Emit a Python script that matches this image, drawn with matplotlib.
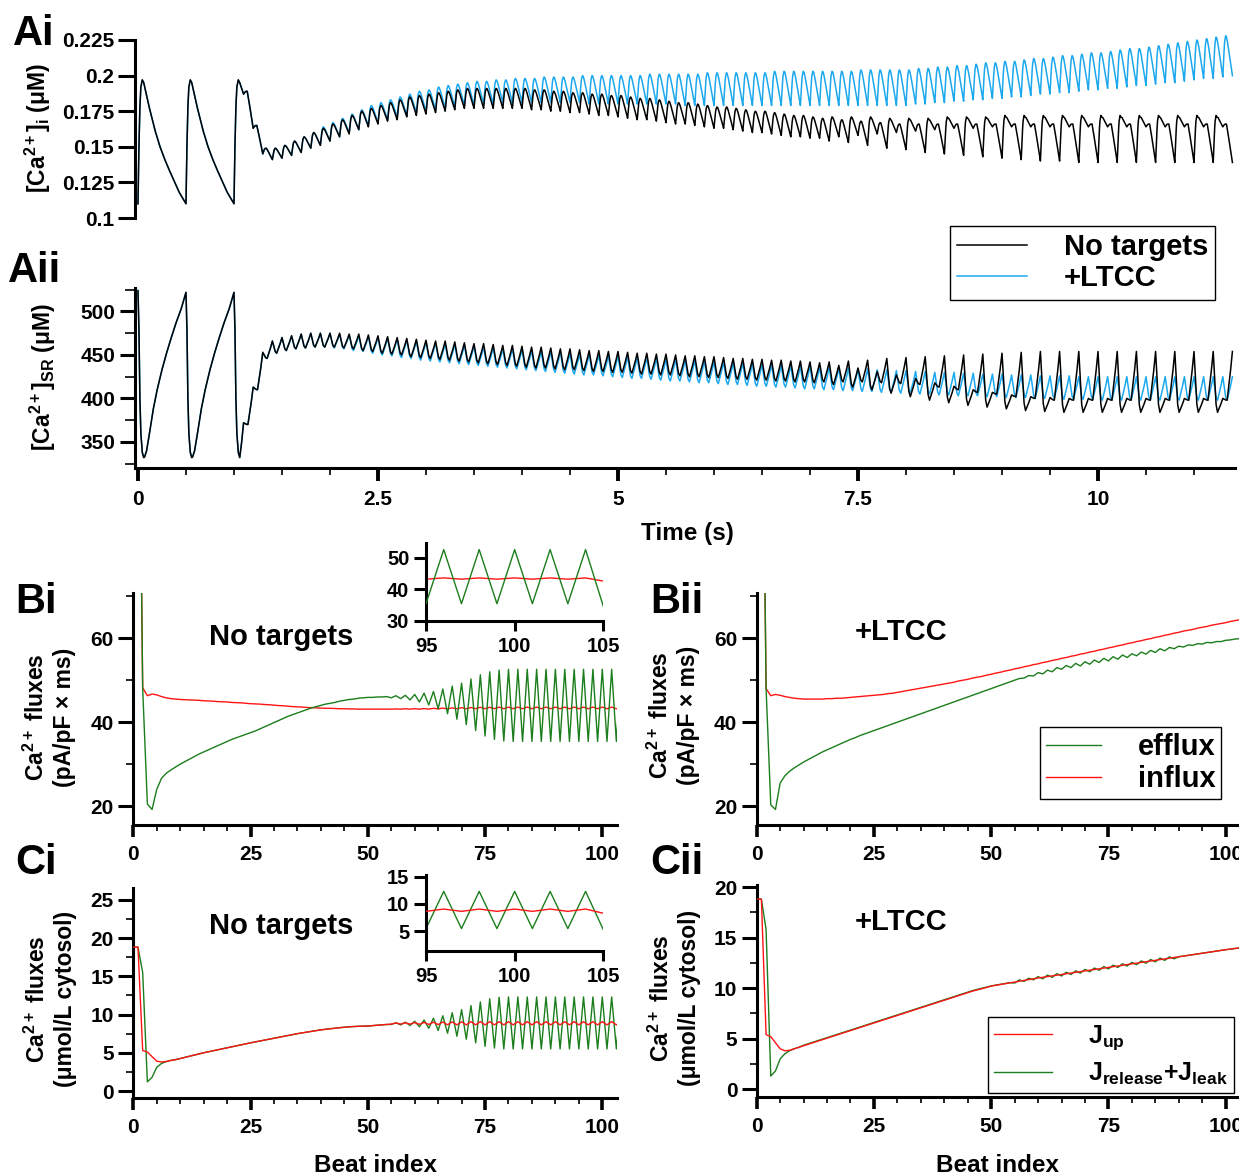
import matplotlib
matplotlib.use('Agg')
import matplotlib.pyplot as plt
from matplotlib.ticker import FixedLocator, MultipleLocator

plt.rcParams['font.family'] = ['Liberation Sans', 'DejaVu Sans']
plt.rcParams['font.weight'] = 'bold'
plt.rcParams['mathtext.fontset'] = 'custom'
plt.rcParams['mathtext.rm'] = 'Liberation Sans:bold'
plt.rcParams['mathtext.it'] = 'Liberation Sans:bold'
plt.rcParams['mathtext.bf'] = 'Liberation Sans:bold'
plt.rcParams['mathtext.sf'] = 'Liberation Sans:bold'

# ---------------- data ----------------
# A panels: the first 3 beats are paced at 2 Hz (same in both cells); one beat read point by point
beat_t = [0, 0.01, 0.02, 0.03, 0.045, 0.06, 0.08, 0.1, 0.12, 0.15, 0.18, 0.23,
          0.28, 0.33, 0.37, 0.43, 0.5]
beat_cai = [0.110, 0.150, 0.178, 0.192, 0.197, 0.195, 0.189, 0.183, 0.177, 0.169,
            0.161, 0.150, 0.141, 0.133, 0.127, 0.118, 0.110]
beat_sr_t = [0, 0.01, 0.02, 0.03, 0.045, 0.06, 0.07, 0.09, 0.12, 0.16, 0.2, 0.25,
             0.3, 0.35, 0.4, 0.45, 0.5]
beat_sr = [524, 480, 400, 360, 338, 332, 333, 340, 360, 388, 410, 433,
           453, 471, 488, 503, 522]
# third slow beat is cut short when 10 Hz pacing starts
tail_t = [1.08, 1.1]
tail_cai = [0.191, 0.187]
tail_sr = [350, 372]

# fast pacing (10 Hz), beats 3..105 : diastolic value at beat onset (beats 3..106) and peak
cai_nt_dia = [0.187, 0.163, 0.145, 0.141, 0.142, 0.144, 0.146, 0.149, 0.151, 0.154,
              0.157, 0.159, 0.162, 0.164, 0.166, 0.168, 0.169, 0.171, 0.172, 0.173,
              0.174, 0.175, 0.176, 0.177, 0.177, 0.177, 0.177, 0.177, 0.177, 0.177,
              0.176, 0.176, 0.175, 0.175, 0.174, 0.174, 0.173, 0.172, 0.172, 0.171,
              0.170, 0.169, 0.169, 0.168, 0.167, 0.166, 0.166, 0.165, 0.164, 0.163,
              0.163, 0.162, 0.161, 0.160, 0.160, 0.159, 0.158, 0.157, 0.157, 0.156,
              0.156, 0.154, 0.157, 0.153, 0.158, 0.151, 0.159, 0.149, 0.160, 0.148,
              0.161, 0.146, 0.162, 0.145, 0.163, 0.144, 0.163, 0.143, 0.164, 0.142,
              0.164, 0.141, 0.164, 0.140, 0.164, 0.140, 0.164, 0.139, 0.164, 0.139,
              0.164, 0.139, 0.164, 0.139, 0.164, 0.139, 0.164, 0.139, 0.164, 0.139,
              0.164, 0.139, 0.164, 0.139]
cai_nt_sys = [0.189, 0.165, 0.149, 0.149, 0.151, 0.154, 0.157, 0.160, 0.163, 0.166,
              0.169, 0.172, 0.175, 0.177, 0.179, 0.181, 0.183, 0.185, 0.186, 0.187,
              0.188, 0.189, 0.190, 0.191, 0.191, 0.191, 0.191, 0.191, 0.191, 0.191,
              0.190, 0.190, 0.189, 0.189, 0.188, 0.188, 0.187, 0.187, 0.186, 0.186,
              0.185, 0.184, 0.184, 0.183, 0.182, 0.181, 0.181, 0.180, 0.179, 0.178,
              0.178, 0.177, 0.176, 0.175, 0.175, 0.174, 0.173, 0.172, 0.172, 0.171,
              0.170, 0.171, 0.169, 0.171, 0.168, 0.171, 0.167, 0.170, 0.166, 0.170,
              0.166, 0.170, 0.166, 0.171, 0.166, 0.171, 0.166, 0.171, 0.166, 0.172,
              0.166, 0.172, 0.166, 0.172, 0.166, 0.172, 0.166, 0.172, 0.166, 0.172,
              0.166, 0.172, 0.166, 0.172, 0.166, 0.172, 0.166, 0.172, 0.166, 0.172,
              0.166, 0.172, 0.166]
cai_lt_dia = [0.187, 0.163, 0.145, 0.141, 0.142, 0.144, 0.146, 0.149, 0.151, 0.154,
              0.157, 0.160, 0.162, 0.165, 0.167, 0.169, 0.171, 0.172, 0.174, 0.175,
              0.176, 0.177, 0.178, 0.179, 0.179, 0.180, 0.180, 0.181, 0.181, 0.181,
              0.181, 0.181, 0.181, 0.181, 0.181, 0.181, 0.180, 0.180, 0.180, 0.180,
              0.180, 0.180, 0.180, 0.180, 0.180, 0.180, 0.179, 0.179, 0.179, 0.179,
              0.179, 0.179, 0.179, 0.179, 0.179, 0.179, 0.179, 0.179, 0.179, 0.179,
              0.179, 0.179, 0.179, 0.179, 0.179, 0.179, 0.179, 0.179, 0.179, 0.179,
              0.180, 0.180, 0.181, 0.181, 0.182, 0.182, 0.183, 0.183, 0.184, 0.184,
              0.185, 0.185, 0.186, 0.187, 0.187, 0.188, 0.188, 0.189, 0.190, 0.190,
              0.191, 0.191, 0.192, 0.193, 0.193, 0.194, 0.195, 0.195, 0.196, 0.197,
              0.198, 0.198, 0.199, 0.200]
cai_lt_sys = [0.189, 0.165, 0.149, 0.149, 0.151, 0.154, 0.157, 0.160, 0.164, 0.167,
              0.170, 0.173, 0.176, 0.179, 0.181, 0.183, 0.185, 0.187, 0.189, 0.190,
              0.192, 0.193, 0.194, 0.195, 0.196, 0.196, 0.197, 0.197, 0.198, 0.198,
              0.198, 0.199, 0.199, 0.199, 0.199, 0.200, 0.200, 0.200, 0.200, 0.200,
              0.200, 0.200, 0.201, 0.201, 0.201, 0.201, 0.201, 0.201, 0.202, 0.202,
              0.202, 0.202, 0.202, 0.202, 0.202, 0.203, 0.203, 0.203, 0.203, 0.203,
              0.203, 0.203, 0.203, 0.203, 0.204, 0.204, 0.204, 0.204, 0.204, 0.204,
              0.205, 0.205, 0.206, 0.206, 0.207, 0.207, 0.208, 0.209, 0.209, 0.210,
              0.210, 0.211, 0.212, 0.212, 0.213, 0.214, 0.214, 0.215, 0.216, 0.216,
              0.217, 0.218, 0.219, 0.219, 0.220, 0.221, 0.222, 0.223, 0.224, 0.225,
              0.226, 0.227, 0.228]
# SR load: value at beat onset (beats 3..106) and minimum after release (beats 3..105)
sr_nt_top = [372, 413, 453, 466, 470, 472, 474, 475, 475, 475,
             475, 474, 474, 473, 472, 471, 470, 469, 468, 467,
             466, 466, 465, 464, 463, 463, 462, 461, 461, 460,
             459, 459, 458, 457, 457, 456, 455, 455, 454, 454,
             453, 452, 452, 451, 451, 450, 449, 449, 448, 448,
             447, 446, 446, 445, 445, 444, 444, 443, 443, 442,
             441, 442, 438, 443, 435, 444, 431, 446, 427, 447,
             423, 448, 418, 449, 414, 450, 410, 451, 407, 452,
             404, 453, 402, 454, 401, 454, 400, 454, 400, 454,
             400, 454, 400, 454, 400, 454, 400, 454, 400, 454,
             400, 454, 400, 454]
sr_nt_bot = [370, 410, 446, 452, 455, 457, 458, 459, 459, 459,
             458, 457, 455, 454, 452, 451, 450, 448, 447, 446,
             445, 444, 443, 442, 441, 440, 439, 438, 437, 436,
             435, 435, 434, 433, 433, 432, 431, 431, 430, 430,
             429, 428, 428, 427, 427, 426, 425, 425, 424, 424,
             423, 422, 422, 421, 421, 420, 420, 419, 419, 418,
             419, 416, 419, 413, 419, 410, 418, 406, 417, 402,
             416, 398, 413, 395, 410, 392, 407, 390, 405, 388,
             402, 386, 400, 385, 398, 384, 398, 384, 398, 384,
             398, 384, 398, 384, 398, 384, 398, 384, 398, 384,
             398, 384, 398]
sr_lt_top = [372, 413, 453, 466, 470, 472, 474, 475, 475, 475,
             474, 473, 472, 471, 470, 469, 468, 467, 466, 465,
             464, 463, 462, 461, 460, 459, 458, 457, 457, 456,
             455, 454, 454, 453, 452, 451, 451, 450, 449, 449,
             448, 447, 447, 446, 445, 445, 444, 444, 443, 442,
             442, 441, 441, 440, 439, 439, 438, 438, 437, 437,
             436, 436, 435, 435, 434, 434, 433, 433, 432, 432,
             431, 431, 430, 430, 430, 429, 429, 428, 428, 428,
             427, 427, 427, 426, 426, 426, 426, 425, 425, 425,
             425, 425, 425, 425, 425, 425, 425, 425, 425, 425,
             425, 425, 425, 425]
sr_lt_bot = [370, 410, 446, 452, 455, 457, 458, 459, 459, 458,
             457, 455, 454, 452, 450, 449, 447, 446, 444, 443,
             442, 441, 440, 439, 438, 437, 436, 435, 434, 433,
             432, 431, 430, 429, 428, 427, 427, 426, 425, 424,
             423, 423, 422, 421, 420, 420, 419, 418, 418, 417,
             416, 416, 415, 414, 414, 413, 413, 412, 411, 411,
             410, 410, 409, 409, 408, 408, 407, 407, 406, 406,
             405, 405, 404, 404, 403, 403, 403, 402, 402, 401,
             401, 401, 400, 400, 400, 399, 399, 399, 399, 398,
             398, 398, 398, 398, 398, 398, 398, 398, 398, 398,
             398, 398, 398]

# B/C panels: per-beat values, beat index 0..105
bi_efflux = [150, 150, 48.0, 20.5, 19.2, 24.0, 26.6, 27.8, 28.6, 29.3,
             30.0, 30.6, 31.2, 31.8, 32.4, 32.9, 33.4, 33.9, 34.4, 34.9,
             35.4, 35.9, 36.3, 36.7, 37.1, 37.5, 37.9, 38.4, 38.9, 39.4,
             39.9, 40.4, 40.9, 41.4, 41.8, 42.2, 42.6, 43.0, 43.4, 43.7,
             44.0, 44.3, 44.5, 44.7, 45.0, 45.2, 45.4, 45.5, 45.7, 45.8,
             45.9, 45.9, 46.0, 46.0, 46.1, 45.8, 46.3, 45.6, 46.4, 45.3,
             46.6, 44.8, 46.9, 44.1, 47.3, 43.2, 47.9, 42.0, 48.6, 40.7,
             49.3, 39.4, 50.3, 38.0, 51.3, 36.7, 52.0, 35.9, 52.4, 35.5,
             52.6, 35.4, 52.6, 35.4, 52.6, 35.4, 52.6, 35.4, 52.6, 35.4,
             52.6, 35.4, 52.6, 35.4, 52.6, 35.4, 52.6, 35.4, 52.6, 35.4,
             52.6, 35.4, 52.6, 35.4, 52.6, 34.6]
bi_influx = [150, 150, 48.2, 46.3, 46.7, 46.5, 46.1, 45.8, 45.6, 45.5,
             45.4, 45.35, 45.3, 45.25, 45.2, 45.1, 45.05, 45.0, 44.9, 44.85,
             44.8, 44.7, 44.65, 44.6, 44.5, 44.4, 44.35, 44.3, 44.2, 44.15,
             44.05, 43.95, 43.9, 43.8, 43.7, 43.65, 43.6, 43.5, 43.45, 43.4,
             43.35, 43.3, 43.3, 43.25, 43.2, 43.2, 43.15, 43.15, 43.1, 43.1,
             43.1, 43.1, 43.1, 43.1, 43.1, 43.1, 43.15, 43.1, 43.2, 43.1,
             43.2, 43.1, 43.25, 43.1, 43.3, 43.15, 43.35, 43.15, 43.4, 43.2,
             43.45, 43.2, 43.5, 43.2, 43.55, 43.2, 43.55, 43.2, 43.6, 43.2,
             43.6, 43.2, 43.6, 43.2, 43.6, 43.2, 43.6, 43.2, 43.6, 43.2,
             43.6, 43.2, 43.6, 43.2, 43.6, 43.2, 43.6, 43.2, 43.6, 43.2,
             43.6, 43.2, 43.6, 43.2, 43.6, 42.6]
bii_efflux = [150, 150, 48.0, 20.3, 19.2, 25.5, 27.2, 28.3, 29.1, 29.8,
              30.5, 31.1, 31.7, 32.3, 32.9, 33.4, 33.9, 34.4, 34.9, 35.4,
              35.9, 36.3, 36.8, 37.2, 37.6, 38.0, 38.4, 38.8, 39.2, 39.6,
              40.0, 40.4, 40.8, 41.2, 41.6, 42.0, 42.4, 42.8, 43.2, 43.6,
              44.0, 44.4, 44.8, 45.2, 45.6, 46.0, 46.4, 46.8, 47.2, 47.6,
              48.0, 48.4, 48.8, 49.2, 49.6, 50.0, 50.4, 50.5, 51.1, 51.0,
              51.8, 51.5, 52.4, 52.0, 53.0, 52.6, 53.5, 53.0, 54.0, 53.4,
              54.4, 53.8, 54.8, 54.2, 55.2, 54.6, 55.6, 55.0, 56.0, 55.4,
              56.3, 55.8, 56.7, 56.2, 57.1, 56.6, 57.5, 57.0, 57.8, 57.5,
              58.1, 57.9, 58.4, 58.3, 58.7, 58.6, 59.0, 58.9, 59.2, 59.2,
              59.5, 59.6, 59.8, 59.9, 60.0, 60.1]
bii_influx = [150, 150, 48.0, 46.3, 46.6, 46.4, 46.1, 45.9, 45.7, 45.6,
              45.5, 45.5, 45.5, 45.5, 45.5, 45.6, 45.6, 45.7, 45.7, 45.8,
              45.9, 46.0, 46.1, 46.2, 46.3, 46.4, 46.5, 46.6, 46.8, 46.9,
              47.1, 47.3, 47.5, 47.7, 47.9, 48.1, 48.3, 48.5, 48.7, 48.9,
              49.1, 49.3, 49.5, 49.8, 50.0, 50.2, 50.5, 50.7, 50.9, 51.2,
              51.4, 51.7, 51.9, 52.2, 52.4, 52.7, 52.9, 53.2, 53.4, 53.7,
              53.9, 54.2, 54.4, 54.7, 54.9, 55.2, 55.4, 55.7, 55.9, 56.2,
              56.4, 56.7, 56.9, 57.2, 57.4, 57.7, 57.9, 58.2, 58.4, 58.7,
              58.9, 59.2, 59.4, 59.7, 59.9, 60.2, 60.4, 60.7, 60.9, 61.2,
              61.4, 61.7, 61.9, 62.1, 62.4, 62.6, 62.8, 63.1, 63.3, 63.5,
              63.7, 64.0, 64.2, 64.4, 64.6, 64.8]
ci_jup = [18.8, 18.8, 5.3, 5.1, 4.5, 3.9, 3.8, 3.85, 4.0, 4.1,
          4.25, 4.4, 4.55, 4.7, 4.85, 5.0, 5.13, 5.26, 5.39, 5.52,
          5.65, 5.78, 5.91, 6.04, 6.17, 6.3, 6.42, 6.54, 6.66, 6.78,
          6.9, 7.02, 7.14, 7.26, 7.38, 7.5, 7.6, 7.7, 7.8, 7.9,
          8.0, 8.07, 8.14, 8.21, 8.28, 8.34, 8.39, 8.43, 8.46, 8.48,
          8.5, 8.55, 8.6, 8.65, 8.7, 8.75, 8.9, 8.75, 8.92, 8.74,
          8.95, 8.72, 8.97, 8.7, 9.0, 8.68, 9.02, 8.66, 9.04, 8.65,
          9.05, 8.65, 9.07, 8.65, 9.07, 8.65, 9.07, 8.65, 9.07, 8.65,
          9.07, 8.65, 9.07, 8.65, 9.07, 8.65, 9.07, 8.65, 9.07, 8.65,
          9.07, 8.65, 9.07, 8.65, 9.07, 8.65, 9.07, 8.65, 9.07, 8.65,
          9.07, 8.65, 9.07, 8.65, 9.07, 8.3]
ci_jrel = [18.8, 18.8, 15.5, 1.2, 1.8, 3.1, 3.6, 3.85, 4.0, 4.1,
           4.25, 4.4, 4.55, 4.7, 4.85, 5.0, 5.13, 5.26, 5.39, 5.52,
           5.65, 5.78, 5.91, 6.04, 6.17, 6.3, 6.42, 6.54, 6.66, 6.78,
           6.9, 7.02, 7.14, 7.26, 7.38, 7.5, 7.6, 7.7, 7.8, 7.9,
           8.0, 8.07, 8.14, 8.21, 8.28, 8.34, 8.39, 8.43, 8.46, 8.48,
           8.5, 8.55, 8.6, 8.65, 8.7, 8.7, 8.92, 8.64, 9.0, 8.56,
           9.12, 8.4, 9.28, 8.2, 9.52, 7.92, 9.84, 7.56, 10.24, 7.16,
           10.64, 6.77, 11.17, 6.29, 11.65, 5.85, 12.06, 5.62, 12.26, 5.5,
           12.3, 5.5, 12.3, 5.5, 12.3, 5.5, 12.3, 5.5, 12.3, 5.5,
           12.3, 5.5, 12.3, 5.5, 12.3, 5.5, 12.3, 5.5, 12.3, 5.5,
           12.3, 5.5, 12.3, 5.5, 12.3, 5.3]
cii_jup = [18.8, 18.8, 5.4, 5.2, 4.6, 4.0, 3.8, 3.85, 4.0, 4.15,
           4.3, 4.45, 4.6, 4.75, 4.9, 5.05, 5.2, 5.35, 5.5, 5.65,
           5.8, 5.95, 6.1, 6.25, 6.4, 6.55, 6.7, 6.85, 7.0, 7.15,
           7.3, 7.45, 7.6, 7.75, 7.9, 8.05, 8.2, 8.35, 8.5, 8.65,
           8.8, 8.95, 9.1, 9.25, 9.4, 9.55, 9.7, 9.82, 9.94, 10.06,
           10.2, 10.28, 10.36, 10.44, 10.52, 10.6, 10.68, 10.76, 10.84, 10.92,
           11.0, 11.07, 11.14, 11.21, 11.28, 11.35, 11.42, 11.49, 11.56, 11.63,
           11.7, 11.77, 11.84, 11.91, 11.98, 12.05, 12.12, 12.19, 12.26, 12.33,
           12.4, 12.47, 12.54, 12.61, 12.68, 12.75, 12.82, 12.89, 12.96, 13.03,
           13.1, 13.17, 13.24, 13.31, 13.38, 13.45, 13.52, 13.59, 13.66, 13.73,
           13.8, 13.86, 13.92, 13.98, 14.04, 14.1]
cii_jrel = [18.8, 18.8, 15.8, 1.3, 1.8, 3.0, 3.5, 3.8, 4.0, 4.15,
            4.35, 4.5, 4.65, 4.8, 4.95, 5.1, 5.25, 5.4, 5.55, 5.7,
            5.85, 6.0, 6.15, 6.3, 6.45, 6.6, 6.75, 6.9, 7.05, 7.2,
            7.35, 7.5, 7.65, 7.8, 7.95, 8.1, 8.25, 8.4, 8.55, 8.7,
            8.85, 9.0, 9.15, 9.3, 9.45, 9.6, 9.75, 9.87, 9.99, 10.1,
            10.22, 10.3, 10.38, 10.46, 10.54, 10.5, 10.82, 10.66, 10.98, 10.82,
            11.14, 10.92, 11.29, 11.06, 11.43, 11.2, 11.57, 11.34, 11.71, 11.48,
            11.85, 11.62, 11.99, 11.76, 12.13, 11.9, 12.27, 12.04, 12.41, 12.18,
            12.55, 12.32, 12.69, 12.46, 12.83, 12.6, 12.97, 12.74, 13.1, 12.9,
            13.1, 13.17, 13.24, 13.31, 13.38, 13.45, 13.52, 13.59, 13.66, 13.73,
            13.8, 13.86, 13.92, 13.98, 14.04, 14.1]

ai_ticks = [0.1, 0.125, 0.15, 0.175, 0.2, 0.225]
ai_ticklabels = ['0.1', '0.125', '0.15', '0.175', '0.2', '0.225']
time_ticks = [0, 2.5, 5, 7.5, 10]
time_ticklabels = ['0', '2.5', '5', '7.5', '10']

BLUE = '#1ca8ef'
GREEN = '#1b7d1b'
RED = '#ff1414'

# shape used to draw each 100-ms beat through its read values
RISE_T, RISE_F = [0.005, 0.01, 0.015, 0.02, 0.03, 0.038], [0.25, 0.5, 0.72, 0.88, 1.0, 0.97]
DECAY_T, DECAY_F = [0.05, 0.06, 0.07, 0.08, 0.09, 0.1], [0.82, 0.66, 0.5, 0.34, 0.17, 0.0]
DROP_T, DROP_F = [0.01, 0.02, 0.03, 0.045], [0.3, 0.62, 0.87, 1.0]
REFILL_T, REFILL_F = [0.06, 0.08, 0.1], [0.25, 0.6, 1.0]


def slow_part(bt, bv, tail_v):
    t, v = [], []
    for off in (0, 0.5, 1.0):
        for dt, val in zip(bt, bv):
            if off > 0 and dt == 0:
                continue
            if off == 1.0 and dt > 0.06:
                break
            t.append(off + dt)
            v.append(val)
    return t + tail_t, v + tail_v


def cai_course(dia, sys_):
    t, v = slow_part(beat_t, beat_cai, tail_cai)
    for i in range(min(len(sys_), len(dia) - 1)):
        t0 = 1.1 + 0.1 * i
        a, p, b = dia[i], sys_[i], dia[i + 1]
        for dt, f in zip(RISE_T, RISE_F):
            t.append(t0 + dt); v.append(a + (p - a) * f)
        for dt, f in zip(DECAY_T, DECAY_F):
            t.append(t0 + dt); v.append(b + (p - b) * f)
    return t, v


def sr_course(top, bot):
    t, v = slow_part(beat_sr_t, beat_sr, tail_sr)
    for i in range(min(len(bot), len(top) - 1)):
        t0 = 1.1 + 0.1 * i
        a, m, b = top[i], bot[i], top[i + 1]
        for dt, f in zip(DROP_T, DROP_F):
            t.append(t0 + dt); v.append(a + (m - a) * f)
        for dt, f in zip(REFILL_T, REFILL_F):
            t.append(t0 + dt); v.append(m + (b - m) * f)
    return t, v


W, H = 1239, 1175
fig = plt.figure(figsize=(W / 100, H / 100), dpi=100)


def box(left, top, right, bottom):
    return fig.add_axes([left / W, 1 - bottom / H, (right - left) / W, (bottom - top) / H])


def fx(x):
    return x / W


def fy(y):
    return 1 - y / H


def style(ax, bottom=True):
    ax.spines['top'].set_visible(False)
    ax.spines['right'].set_visible(False)
    ax.spines['left'].set_linewidth(2.2)
    ax.spines['bottom'].set_linewidth(2.2)
    ax.set_facecolor('none')
    if not bottom:
        ax.spines['bottom'].set_visible(False)
        ax.set_xticks([])


# ---------------- Ai ----------------
ax = box(135, 34.3, 1235, 218)
t, v = cai_course(cai_lt_dia, cai_lt_sys)
l_lt, = ax.plot(t, v, color=BLUE, lw=1.1)
t, v = cai_course(cai_nt_dia, cai_nt_sys)
l_nt, = ax.plot(t, v, color='k', lw=1.1)
ax.set_xlim(-0.031, 11.427)
ax.set_ylim(0.1, 0.229)
style(ax, bottom=False)
ax.spines['left'].set_bounds(0.1, 0.225)
ax.yaxis.set_major_locator(FixedLocator(ai_ticks))
ax.set_yticklabels(ai_ticklabels)
ax.tick_params(axis='y', direction='out', length=12, width=2.2, labelsize=15, pad=3)
leg = ax.legend([l_nt, l_lt], ['No targets', '+LTCC'], loc='upper left',
                bbox_to_anchor=(fx(950), fy(226)), bbox_transform=fig.transFigure,
                fancybox=False, edgecolor='k', framealpha=1, fontsize=21,
                handlelength=2.4, handletextpad=1.25, borderpad=0.25,
                labelspacing=0.1, borderaxespad=0)
leg.get_frame().set_linewidth(1.0)

# ---------------- Aii ----------------
ax = box(135, 288, 1235, 468)
t, v = sr_course(sr_lt_top, sr_lt_bot)
ax.plot(t, v, color=BLUE, lw=1.1)
t, v = sr_course(sr_nt_top, sr_nt_bot)
ax.plot(t, v, color='k', lw=1.1)
ax.set_xlim(-0.031, 11.427)
ax.set_ylim(320, 527)
style(ax)
ax.yaxis.set_major_locator(FixedLocator([350, 400, 450, 500]))
ax.yaxis.set_minor_locator(FixedLocator([325, 375, 425, 475, 525]))
ax.xaxis.set_major_locator(FixedLocator(time_ticks))
ax.set_xticklabels(time_ticklabels)
ax.xaxis.set_minor_locator(MultipleLocator(0.5))
ax.tick_params(axis='y', which='major', direction='out', length=11, width=2.2, labelsize=15, pad=3)
ax.tick_params(axis='y', which='minor', direction='out', length=7, width=1.2)
ax.tick_params(axis='x', which='major', direction='out', length=9, width=2.8, labelsize=15, pad=7)
ax.tick_params(axis='x', which='minor', direction='out', length=5, width=1.2)


# ---------------- B / C ----------------
def beat_panel(ax, red, green, ylim, major, minor, red_on_top):
    x = range(len(red))
    zr, zg = (3, 2) if red_on_top else (2, 3)
    ax.plot(x, green, color=GREEN, lw=1.0, zorder=zg)
    ax.plot(x, red, color=RED, lw=1.0, zorder=zr)
    ax.set_xlim(0, 103.2)
    ax.set_ylim(*ylim)
    style(ax)
    ax.yaxis.set_major_locator(MultipleLocator(major))
    ax.yaxis.set_minor_locator(MultipleLocator(minor))
    ax.xaxis.set_major_locator(FixedLocator([0, 25, 50, 75, 100]))
    ax.xaxis.set_minor_locator(MultipleLocator(5))
    ax.tick_params(axis='y', which='major', direction='out', length=11, width=2.2, labelsize=15, pad=3)
    ax.tick_params(axis='y', which='minor', direction='out', length=5, width=1.2)
    ax.tick_params(axis='x', which='major', direction='out', length=8.5, width=2.6, labelsize=15, pad=6)
    ax.tick_params(axis='x', which='minor', direction='out', length=4, width=1.2)


def inset(ax, red, green, ylim, yticks, red_on_top):
    x = range(len(red))
    zr, zg = (3, 2) if red_on_top else (2, 3)
    ax.plot(x, green, color=GREEN, lw=1.0, zorder=zg)
    ax.plot(x, red, color=RED, lw=1.0, zorder=zr)
    ax.set_xlim(95, 105)
    ax.set_ylim(*ylim)
    style(ax)
    ax.yaxis.set_major_locator(FixedLocator(yticks))
    ax.xaxis.set_major_locator(FixedLocator([95, 100, 105]))
    ax.tick_params(axis='y', direction='out', length=9, width=2.2, labelsize=14.5, pad=3)
    ax.tick_params(axis='x', direction='out', length=7, width=2.2, labelsize=14.5, pad=5)


ax_bi = box(133.3, 593.3, 617.3, 825)
beat_panel(ax_bi, bi_influx, bi_efflux, (15.5, 70.7), 20, 10, False)
ax_bii = box(756.7, 593.3, 1240.7, 825)
beat_panel(ax_bii, bii_influx, bii_efflux, (15.5, 70.7), 20, 10, False)
ax_ci = box(133.3, 888.3, 617.3, 1098.3)
beat_panel(ax_ci, ci_jup, ci_jrel, (-0.95, 26.5), 5, 2.5, True)
ax_cii = box(756.7, 885, 1240.7, 1097.3)
beat_panel(ax_cii, cii_jup, cii_jrel, (-0.8, 20.2), 5, 2.5, True)

ax_bin = box(426, 543.3, 603.3, 620.7)
inset(ax_bin, bi_influx, bi_efflux, (30, 54.6), [30, 40, 50], False)
ax_cin = box(426, 875, 603.3, 950.7)
inset(ax_cin, ci_jup, ci_jrel, (1.45, 15.3), [5, 10, 15], True)

h = ax_bii.get_lines()
leg = ax_bii.legend([h[0], h[1]], ['efflux', 'influx'], loc='upper left',
                    bbox_to_anchor=(fx(1040), fy(727)), bbox_transform=fig.transFigure,
                    fancybox=False, edgecolor='k', framealpha=1, fontsize=21,
                    handlelength=1.9, handletextpad=1.25, borderpad=0.2,
                    labelspacing=0.15, borderaxespad=0)
leg.get_frame().set_linewidth(1.0)
h = ax_cii.get_lines()
leg = ax_cii.legend([h[1], h[0]], [r'J$_{up}$', r'J$_{release}$+J$_{leak}$'], loc='upper left',
                    bbox_to_anchor=(fx(988), fy(1017)), bbox_transform=fig.transFigure,
                    fancybox=False, edgecolor='k', framealpha=1, fontsize=18,
                    handlelength=2.3, handletextpad=1.45, borderpad=0.25,
                    labelspacing=0.35, borderaxespad=0)
leg.get_frame().set_linewidth(1.0)

# ---------------- text ----------------
for s, x, y in [('Ai', 13, 45), ('Aii', 8, 282), ('Bi', 15, 613),
                ('Bii', 650, 613), ('Ci', 15, 874), ('Cii', 650, 874)]:
    fig.text(fx(x), fy(y), s, fontsize=30, ha='left', va='baseline')

for s, x, y in [('No targets', 281, 645), ('No targets', 281, 934),
                ('+LTCC', 901, 640), ('+LTCC', 901, 930)]:
    fig.text(fx(x), fy(y), s, fontsize=21, ha='center', va='baseline')

fig.text(fx(38), fy(128), r'[Ca$^{2+}$]$_{i}$ (μM)', rotation=90, fontsize=16.5,
         ha='center', va='center')
fig.text(fx(43), fy(377), r'[Ca$^{2+}$]$_{SR}$ (μM)', rotation=90, fontsize=16.5,
         ha='center', va='center')
for x, y, s in [(50, 717, 'Ca$^{2+}$ fluxes\n(pA/pF × ms)'),
                (51, 999, 'Ca$^{2+}$ fluxes\n(μmol/L cytosol)'),
                (674, 715, 'Ca$^{2+}$ fluxes\n(pA/pF × ms)'),
                (675, 998, 'Ca$^{2+}$ fluxes\n(μmol/L cytosol)')]:
    fig.text(fx(x), fy(y), s, rotation=90, fontsize=16.5, ha='center', va='center',
             multialignment='center', linespacing=1.25)

fig.text(fx(687), fy(540), 'Time (s)', fontsize=17.5, ha='center', va='baseline')
fig.text(fx(375), fy(1172), 'Beat index', fontsize=17.5, ha='center', va='baseline')
fig.text(fx(998), fy(1172), 'Beat index', fontsize=17.5, ha='center', va='baseline')

fig.savefig('out.png', dpi=100)
